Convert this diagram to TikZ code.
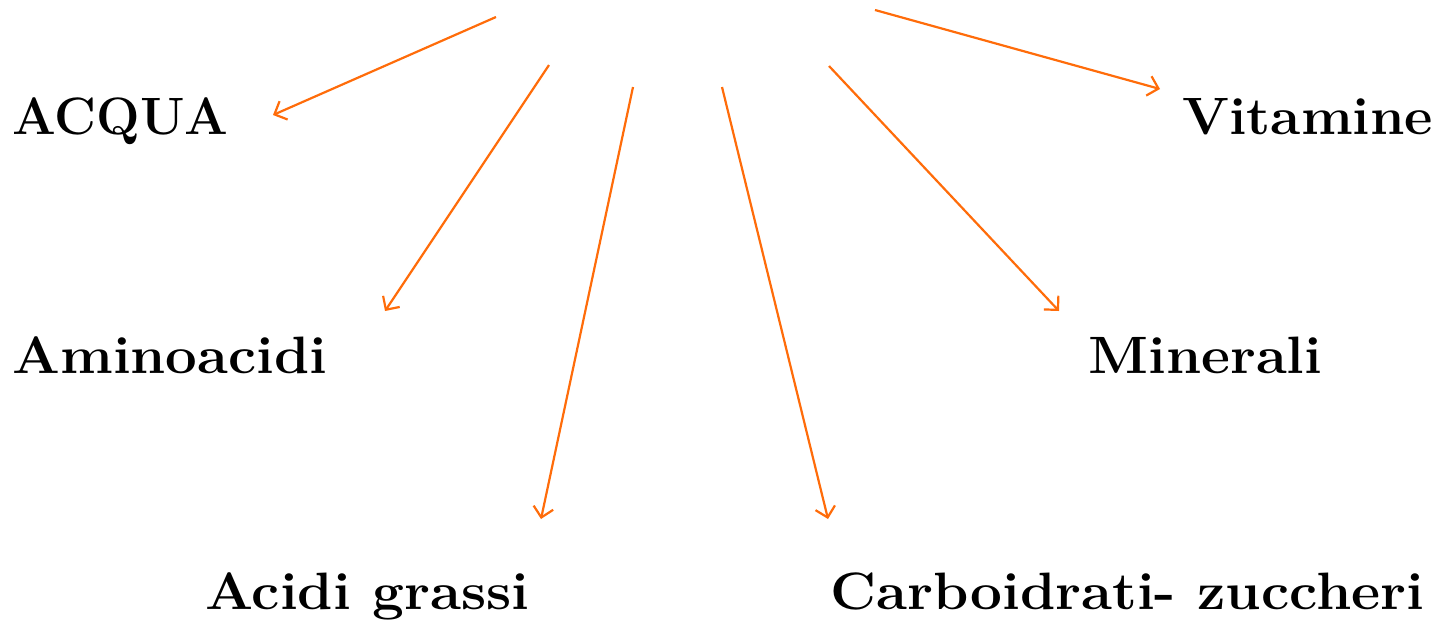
\documentclass[tikz,border=0pt]{standalone}
\usepackage{graphicx}
\usetikzlibrary{arrows.meta}
\definecolor{arrorange}{RGB}{255,108,10}
\newcommand{\widen}[2]{\scalebox{#1}[1]{#2}}
\tikzset{
  px/.style={x=0.5pt,y=-0.5pt},
  nutrient/.style={anchor=base west,inner sep=0pt,font=\fontsize{26.3}{30}\selectfont\bfseries},
  feed/.style={draw=arrorange,line width=1.1pt,-{Straight Barb[length=5pt,width=10pt,line width=1.1pt]}},
}
\begin{document}
\begin{tikzpicture}[px]
  \useasboundingbox (0,0) rectangle (1435,623);
  \clip (0,0) rectangle (1435,623);
  % labels
  \node[nutrient] (acqua) at (12,134) {\widen{0.98}{ACQUA}};
  \node[nutrient] (vitamine) at (1182,134) {\widen{1.05}{Vitamine}};
  \node[nutrient] (amino) at (12,373) {\widen{1.07}{Aminoacidi}};
  \node[nutrient] (minerali) at (1088,373) {\widen{1.07}{Minerali}};
  \node[nutrient] (grassi) at (205,609) {\widen{1.077}{Acidi grassi}};
  \node[nutrient] (carbo) at (830,609) {\widen{1.076}{Carboidrati- zuccheri}};
  % arrow ends
  \coordinate (s1) at (496,17);   \coordinate (t1) at (273,115);
  \coordinate (s2) at (549,65);   \coordinate (t2) at (385,311);
  \coordinate (s3) at (633,87);   \coordinate (t3) at (541,519);
  \coordinate (s4) at (722,87);   \coordinate (t4) at (828,519);
  \coordinate (s5) at (829,66);   \coordinate (t5) at (1059,311);
  \coordinate (s6) at (875,10);   \coordinate (t6) at (1160,89);
  \foreach \i in {1,...,6} \draw[feed] (s\i) -- (t\i);
\end{tikzpicture}
\end{document}
